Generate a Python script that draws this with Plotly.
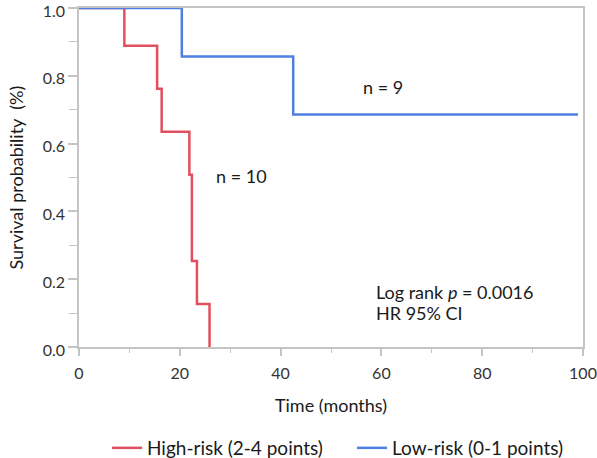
import plotly.graph_objects as go

# Data
high_time = [0, 9, 15.5, 16.4, 21.9, 22.4, 23.4, 25.9]
high_surv = [1.0, 0.889, 0.762, 0.635, 0.508, 0.254, 0.127, 0.0]
low_time = [0, 20.4, 42.5, 99]
low_surv = [1.0, 0.857, 0.686, 0.686]

x_ticks = [0, 20, 40, 60, 80, 100]
y_ticks = [0.0, 0.2, 0.4, 0.6, 0.8, 1.0]
y_ticklabels = ["0.0", "0.2", "0.4", "0.6", "0.8", "1.0"]

FONT = "Lato"
FS = 18
LFS = 19
TFS = 16
RED = "#e2505f"
BLUE = "#4f7fe3"
GRAY = "#c4c4c4"
TXT = "#1a1a1a"

fig = go.Figure()
fig.add_trace(go.Scatter(x=high_time, y=high_surv, mode="lines", line_shape="hv",
                         line=dict(color=RED, width=2.5), name="High-risk (2-4 points)"))
fig.add_trace(go.Scatter(x=low_time, y=low_surv, mode="lines", line_shape="hv",
                         line=dict(color=BLUE, width=2.5), name="Low-risk (0-1 points)"))

fig.add_annotation(x=60.3, y=0.768, text="n = 9", showarrow=False, xanchor="center",
                   font=dict(size=FS, color=TXT, family=FONT))
fig.add_annotation(x=32.3, y=0.503, text="n = 10", showarrow=False, xanchor="center",
                   font=dict(size=FS, color=TXT, family=FONT))
fig.add_annotation(x=58.6, y=0.162, text="Log rank <i>p</i> = 0.0016", showarrow=False,
                   xanchor="left", font=dict(size=FS, color=TXT, family=FONT))
fig.add_annotation(x=58.6, y=0.10, text="HR 95% CI", showarrow=False,
                   xanchor="left", font=dict(size=FS, color=TXT, family=FONT))
# y-axis title
fig.add_annotation(xref="paper", yref="paper", x=0, y=0.5, xshift=-64, textangle=-90,
                   text="Survival probability  (%)", showarrow=False,
                   xanchor="center", yanchor="middle",
                   font=dict(size=FS, color=TXT, family=FONT))

fig.update_xaxes(range=[0, 100], tickvals=x_ticks, showgrid=False, zeroline=False,
                 showline=True, linecolor=GRAY, linewidth=1.5, mirror=True, automargin=False,
                 ticks="outside", ticklen=7, tickcolor=GRAY, tickwidth=1.5,
                 ticklabeloverflow="allow", ticklabelstandoff=4,
                 minor=dict(ticks="outside", ticklen=4, tickcolor=GRAY, dtick=10, tickwidth=1),
                 tickfont=dict(size=TFS, color="#333", family=FONT),
                 title=dict(text="Time (months)", font=dict(size=FS, color=TXT, family=FONT), standoff=18))
fig.update_yaxes(range=[0, 1.0], tickvals=y_ticks, ticktext=y_ticklabels, showgrid=False, zeroline=False,
                 showline=True, linecolor=GRAY, linewidth=1.5, mirror=True, automargin=False,
                 ticks="outside", ticklen=9, tickcolor=GRAY, tickwidth=1.5,
                 ticklabeloverflow="allow", ticklabelshift=3,
                 minor=dict(ticks="outside", ticklen=8, tickcolor=GRAY, dtick=0.1, tickwidth=1),
                 tickfont=dict(size=TFS, color="#333", family=FONT))

fig.update_layout(width=597, height=458, margin=dict(l=79, r=14, t=8, b=111),
                  plot_bgcolor="white", paper_bgcolor="white",
                  font=dict(family=FONT),
                  legend=dict(orientation="h", x=0.545, xanchor="center",
                              yref="container", y=10 / 458, yanchor="middle",
                              font=dict(size=LFS, color=TXT, family=FONT), itemwidth=30,
                              entrywidth=200, tracegroupgap=0))

fig.write_html("out.html", post_script="document.body.style.margin='0';",
               config={"displayModeBar": False})
